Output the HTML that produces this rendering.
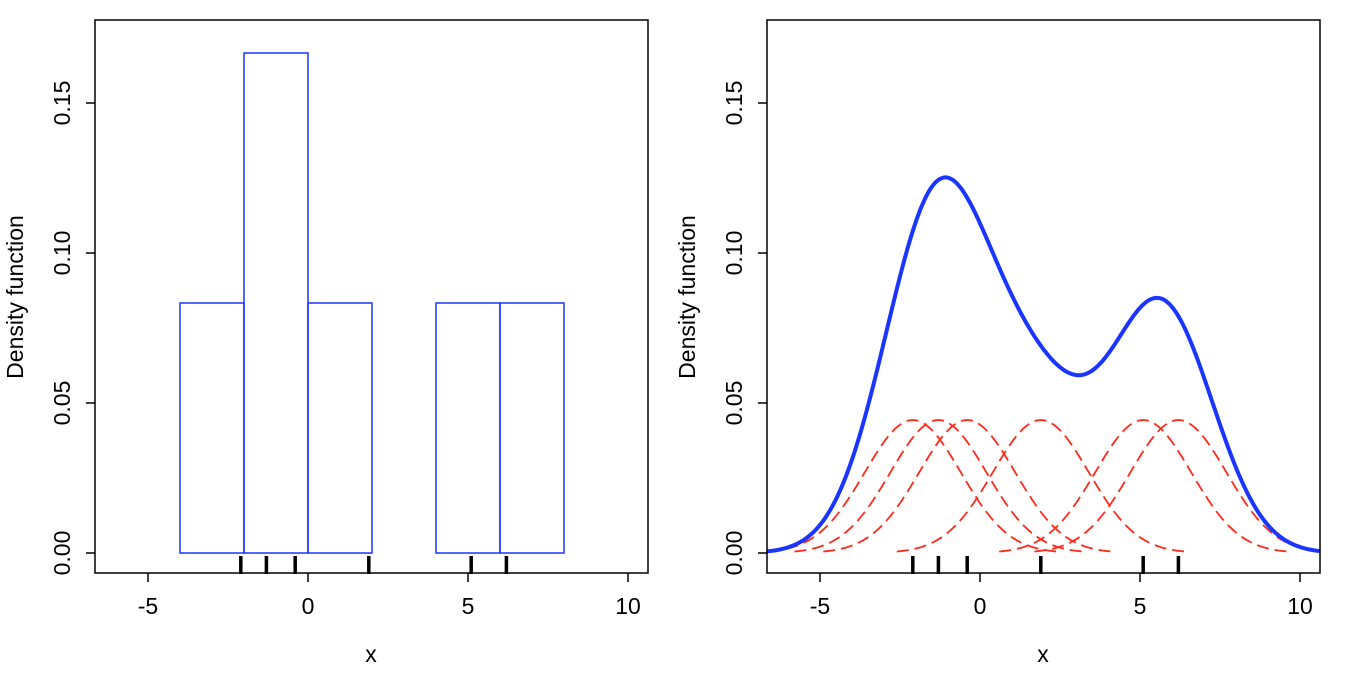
<!DOCTYPE html>
<html><head><meta charset="utf-8"><style>
html,body{margin:0;padding:0;background:#fff}
svg text{font-family:"Liberation Sans",Arial,sans-serif;font-size:23px;fill:#000}
</style></head><body>
<svg id="s" width="1367" height="693" xmlns="http://www.w3.org/2000/svg">
<g id="g"></g>
</svg>
<script>
var pts=[-2.1,-1.3,-0.4,1.9,5.1,6.2],h=1.5;
var g=document.getElementById('g'),o='';
function Y(v){return 553-v*3000;}
function axes(L,x0){
 o+='<rect x="'+L+'" y="20" width="553" height="553" fill="none" stroke="#000" stroke-width="1.5"/>';
 [-5,0,5,10].forEach(function(t){var x=x0+32*t;
  o+='<line x1="'+x+'" y1="573" x2="'+x+'" y2="582" stroke="#000" stroke-width="1.5"/>';
  o+='<text x="'+x+'" y="614" text-anchor="middle">'+t+'</text>';});
 [0,0.05,0.1,0.15].forEach(function(t){var y=Y(t);
  o+='<line x1="'+(L-9)+'" y1="'+y+'" x2="'+L+'" y2="'+y+'" stroke="#000" stroke-width="1.5"/>';
  o+='<text transform="translate('+(L-25)+','+y+') rotate(-90)" text-anchor="middle">'+t.toFixed(2)+'</text>';});
 o+='<text transform="translate('+(L-72)+',297) rotate(-90)" text-anchor="middle">Density function</text>';
 o+='<text x="'+(L+276)+'" y="662" text-anchor="middle">x</text>';
 pts.forEach(function(p){var x=x0+32*p;
  o+='<line x1="'+x+'" y1="556" x2="'+x+'" y2="574" stroke="#000" stroke-width="3.5"/>';});
}
var x0=308;
[[-4,-2,1],[-2,0,2],[0,2,1],[2,4,0],[4,6,1],[6,8,1]].forEach(function(b){
 var d=b[2]/12;o+='<rect x="'+(x0+32*b[0])+'" y="'+Y(d)+'" width="64" height="'+(553-Y(d))+'" fill="none" stroke="#1a35ff" stroke-width="1.5"/>';});
axes(95,308);
x0=980;
function k(x,p){return Math.exp(-0.5*Math.pow((x-p)/h,2))/(Math.sqrt(2*Math.PI)*h)/6;}
o+='<svg x="767" y="20" width="553" height="553" overflow="hidden"><g transform="translate(-767,-20)">';
pts.forEach(function(p){var d='';for(var x=p-3*h;x<=p+3*h+1e-9;x+=0.05){d+=(d?'L':'M')+(x0+32*x).toFixed(1)+','+Y(k(x,p)).toFixed(1);}
 o+='<path d="'+d+'" fill="none" stroke="#ff2a1a" stroke-width="1.8" stroke-dasharray="12,6"/>';});
var d='';for(var x=-7;x<=11;x+=0.05){var s=0;pts.forEach(function(p){s+=k(x,p);});d+=(d?'L':'M')+(x0+32*x).toFixed(1)+','+Y(s).toFixed(1);}
o+='<path d="'+d+'" fill="none" stroke="#1a35ff" stroke-width="4"/>';
o+='</g></svg>';
axes(767,980);
g.innerHTML=o;
</script>
</body></html>
